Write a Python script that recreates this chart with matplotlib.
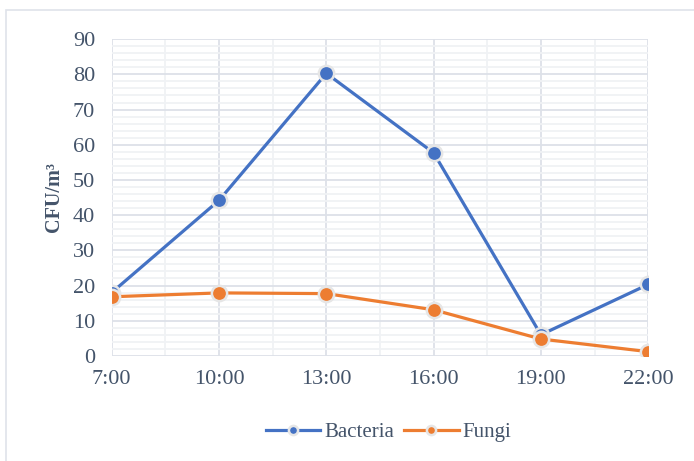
import numpy as np
import matplotlib.pyplot as plt
from matplotlib.patches import Rectangle
from matplotlib.ticker import MultipleLocator

times = ['7:00', '10:00', '13:00', '16:00', '19:00', '22:00']
bacteria = [18.0, 44.2, 80.3, 57.7, 6.0, 20.3]
fungi = [16.8, 17.9, 17.7, 13.1, 4.8, 1.2]

plt.rcParams['font.family'] = ['Liberation Serif', 'DejaVu Serif']
text_col = '#44546A'

fig = plt.figure(figsize=(6.94, 4.61), dpi=100)
ax = fig.add_axes([0.161, 0.228, 0.773, 0.687])

# light frame around the chart area
fig.patches.append(Rectangle((6 / 694, -0.01), 1.0, 1 - 10 / 461 + 0.01,
                             transform=fig.transFigure, fill=False,
                             edgecolor='#dfe3ea', linewidth=1.2))

x = np.arange(len(times))
ax.plot(x, bacteria, '-o', color='#4472C4', linewidth=2.3, markersize=11,
        markeredgecolor='#e6e6e6', markeredgewidth=1.8, label='Bacteria', zorder=3)
ax.plot(x, fungi, '-o', color='#ED7D31', linewidth=2.3, markersize=11,
        markeredgecolor='#e6e6e6', markeredgewidth=1.8, label='Fungi', zorder=4)

ax.set_xlim(0, len(times) - 1)
ax.set_ylim(0, 90)
ax.set_xticks(x)
ax.set_xticklabels(times)
ax.yaxis.set_major_locator(MultipleLocator(10))
ax.yaxis.set_minor_locator(MultipleLocator(2))
ax.xaxis.set_minor_locator(MultipleLocator(0.5))

ax.grid(which='major', color='#dde1e8', linewidth=1.3, zorder=0)
ax.grid(which='minor', color='#f0f2f5', linewidth=1.3, zorder=0)
ax.set_axisbelow(True)
for s in ax.spines.values():
    s.set_visible(False)
ax.tick_params(which='both', length=0, labelsize=16, colors=text_col, pad=12)
ax.tick_params(axis='x', pad=10)

ax.set_ylabel('CFU/m³', fontsize=14.5, fontweight='bold', color=text_col, labelpad=6)

leg = fig.legend(loc='center', bbox_to_anchor=(0.56, 0.062), ncol=2, frameon=False,
                 fontsize=15, handlelength=2.6, handletextpad=0.2, columnspacing=0.5,
                 markerscale=0.6)
for t in leg.get_texts():
    t.set_color(text_col)

fig.savefig('out.png', dpi=100)
